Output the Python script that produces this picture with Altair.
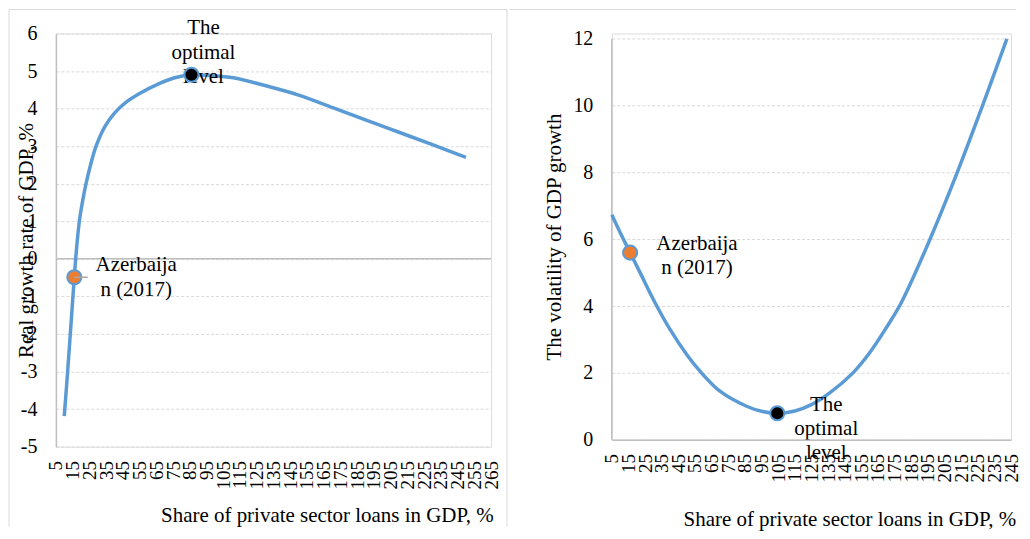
import altair as alt
import pandas as pd

FONT = "Liberation Serif"
BLUE = "#5B9BD5"
ORANGE = "#ED7D31"
BORDER = "#D9D9D9"
AXISC = "#BFBFBF"

# ---------- Left panel: real GDP growth ----------
growth_x = [10, 12, 14, 16, 17, 19, 21, 23, 26, 29, 34, 40, 47, 55, 67, 76, 86, 98, 111, 131, 150, 172, 190, 210, 230, 250]
growth_y = [-4.19, -3.0, -1.75, -0.49, 0.1, 1.0, 1.55, 2.0, 2.55, 3.0, 3.5, 3.88, 4.17, 4.4, 4.67, 4.82, 4.9, 4.88, 4.82, 4.6, 4.36, 4.0, 3.7, 3.37, 3.04, 2.70]
growth_pts_x = [16, 86]
growth_pts_y = [-0.49, 4.9]
growth_pts_kind = ["Azerbaijan", "Optimal"]
growth_labels = ["Azerbaija\nn (2017)", "The\noptimal\nlevel"]
growth_ticks_x = list(range(5, 266, 10))
growth_ticks_y = list(range(-5, 7))

# ---------- Right panel: volatility of GDP growth ----------
vol_x = [5, 10, 16, 22, 31, 40, 50, 58, 70, 86, 95, 104.5, 115, 125, 136, 150, 160, 170, 179, 195, 211.5, 227.5, 242.5]
vol_y = [6.73, 6.2, 5.6, 5.0, 4.1, 3.3, 2.55, 2.05, 1.45, 1.0, 0.85, 0.79, 0.86, 1.05, 1.4, 2.0, 2.6, 3.35, 4.1, 5.85, 7.85, 9.95, 12.0]
vol_pts_x = [16, 104.5]
vol_pts_y = [5.6, 0.79]
vol_pts_kind = ["Azerbaijan", "Optimal"]
vol_labels = ["Azerbaija\nn (2017)", "The\noptimal\nlevel"]
vol_ticks_x = list(range(5, 246, 10))
vol_ticks_y = list(range(0, 13, 2))

XTITLE = "Share of private sector loans in GDP, %"


def make_panel(lx, ly, px, py, kinds, labels, xdom, ydom, xticks, yticks,
               width, height, ytitle, ytitle_x, xtitle_x, xtitle_y,
               xdomain_line, ydomain_line, zero_rule, label_offsets, leader, borders):
    xs = alt.Scale(domain=xdom, nice=False, zero=False)
    ys = alt.Scale(domain=ydom, nice=False, zero=False)
    line_df = pd.DataFrame({"x": lx, "y": ly})
    pts_df = pd.DataFrame({"x": px, "y": py, "kind": kinds, "label": labels})

    xaxis = alt.Axis(values=xticks, tickCount=len(xticks), labelAngle=270, labelFontSize=19,
                     labelFont=FONT, labelColor="black", ticks=False, domain=xdomain_line,
                     domainColor=AXISC, domainWidth=1.5, grid=False, labelPadding=14,
                     labelOverlap=False, labelFlush=False, title=XTITLE, zindex=1,
                     titleFont=FONT, titleFontSize=21, titleFontWeight="normal",
                     titleColor="black", titleX=xtitle_x, titleY=xtitle_y,
                     titleBaseline="alphabetic", titleAlign="center")
    yaxis = alt.Axis(values=yticks, tickCount=len(yticks), labelFontSize=20, labelFont=FONT,
                     labelColor="black", labelOverlap=False,
                     ticks=False, domain=ydomain_line, domainColor=AXISC, domainWidth=1.5,
                     grid=True, gridColor=BORDER, gridDash=[3, 2], gridWidth=1,
                     labelPadding=19, labelExpr="datum.value + ''",
                     title=ytitle, titleFont=FONT, titleFontSize=21,
                     titleFontWeight="normal", titleColor="black", titleAngle=270,
                     titleX=ytitle_x, titleBaseline="middle", titleAlign="center")

    layers = []
    layers.append(alt.Chart(line_df).mark_line(
        color=BLUE, strokeWidth=3.5, interpolate="catmull-rom"
    ).encode(x=alt.X("x:Q", scale=xs, axis=xaxis), y=alt.Y("y:Q", scale=ys, axis=yaxis)))

    if zero_rule:
        zdf = pd.DataFrame({"y": [0]})
        layers.insert(0, alt.Chart(zdf).mark_rule(color=AXISC, strokeWidth=1.5).encode(
            y=alt.Y("y:Q", scale=ys)))
    if not ydomain_line:
        adf = pd.DataFrame({"x": [xdom[0]], "y": [yticks[0]], "y2": [yticks[-1]]})
        layers.insert(0, alt.Chart(adf).mark_rule(color=AXISC, strokeWidth=1.5).encode(
            x=alt.X("x:Q", scale=xs), y=alt.Y("y:Q", scale=ys), y2="y2:Q"))

    for i, (dx, dy) in enumerate(label_offsets):
        sub = pts_df.iloc[[i]]
        layers.append(alt.Chart(sub).mark_text(
            font=FONT, fontSize=21, color="black", align="center", baseline="alphabetic",
            lineBreak="\n", lineHeight=24.3, dx=dx, dy=dy
        ).encode(x=alt.X("x:Q", scale=xs), y=alt.Y("y:Q", scale=ys), text="label:N"))

    layers.append(alt.Chart(pts_df).mark_point(
        filled=True, size=200, shape="circle", strokeWidth=2, stroke=BLUE, opacity=1
    ).encode(
        x=alt.X("x:Q", scale=xs), y=alt.Y("y:Q", scale=ys),
        fill=alt.Fill("kind:N", scale=alt.Scale(domain=["Azerbaijan", "Optimal"],
                                                 range=[ORANGE, "black"]), legend=None)
    ))

    if leader is not None:
        ldf = pd.DataFrame({"x": [leader[0]], "x2": [leader[1]], "y": [leader[2]]})
        layers.append(alt.Chart(ldf).mark_rule(color="#A6A6A6", strokeWidth=1.5).encode(
            x=alt.X("x:Q", scale=xs), x2="x2:Q", y=alt.Y("y:Q", scale=ys)))

    one = pd.DataFrame({"k": [0]})
    for b in borders:
        enc = {k: alt.value(v) for k, v in b.items()}
        layers.append(alt.Chart(one).mark_rule(color=BORDER, strokeWidth=1).encode(**enc))

    return alt.layer(*layers).properties(width=width, height=height)


left = make_panel(
    growth_x, growth_y, growth_pts_x, growth_pts_y, growth_pts_kind, growth_labels,
    [5, 265], [-5, 6], growth_ticks_x, growth_ticks_y, 436, 414,
    "Real growth rate of GDP, %", -29, 271.5, 75, False, True, True,
    [(62, -6), (12, -40.5)], (16, 24, -0.49),
    [dict(x=-47, x2=-47, y=-24, y2=494), dict(x=-47, x2=452, y=-24),
     dict(x=452, x2=452, y=-24, y2=494)],
)

right = make_panel(
    vol_x, vol_y, vol_pts_x, vol_pts_y, vol_pts_kind, vol_labels,
    [5, 245], [0, 12.16], vol_ticks_x, vol_ticks_y, 400, 407,
    "The volatility of GDP growth", -57, 238, 86, True, False, False,
    [(67, -2.5), (49, -2.3)], None,
    [dict(x=-102, x2=405, y=-24)],
)

chart = alt.hconcat(left, right, spacing=1).properties(padding=0).configure_view(
    stroke=None
).configure(background="white")

chart.save("out.html", embed_options={"renderer": "svg", "actions": False})
